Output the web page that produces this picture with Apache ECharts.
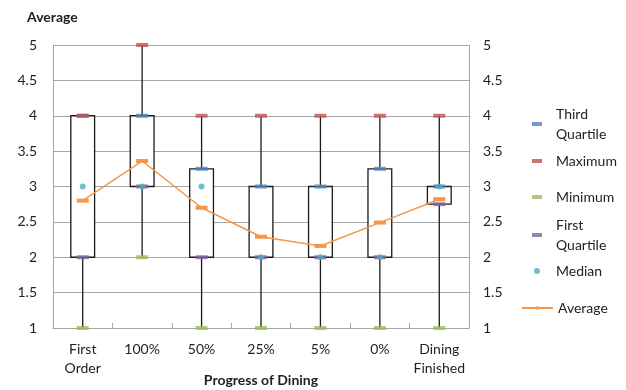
<!DOCTYPE html>
<html>
<head>
<meta charset="utf-8">
<script src="https://cdn.jsdelivr.net/npm/echarts@6/dist/echarts.min.js"></script>
<style>
  html, body { margin: 0; padding: 0; background: #fff; }
  #chart { width: 626px; height: 390px; }
</style>
</head>
<body>
<div id="chart"></div>
<script>
// Stages of the meal and the score summary at each stage
const categories = ['First Order', '100%', '50%', '25%', '5%', '0%', 'Dining Finished'];
const minimum     = [1, 2, 1, 1, 1, 1, 1];
const firstQuart  = [2, 3, 2, 2, 2, 2, 2.75];
const median      = [3, 3, 3, 2, 2, 2, 3];
const thirdQuart  = [4, 4, 3.25, 3, 3, 3.25, 3];
const maximum     = [4, 5, 4, 4, 4, 4, 4];
const average     = [2.8, 3.36, 2.7, 2.29, 2.16, 2.49, 2.82];
const yTicks      = [1, 1.5, 2, 2.5, 3, 3.5, 4, 4.5, 5];

const FONT = 'Lato';
const FS = 14;
const TXT = '#222';
const GRID = '#a6a6a6';

const boxData = categories.map((c, i) => [i, minimum[i], firstQuart[i], thirdQuart[i], maximum[i]]);

function dashSeries(name, values, color, z) {
  return {
    name: name,
    type: 'scatter',
    data: values,
    symbol: 'rect',
    symbolSize: [12, 4],
    itemStyle: { color: color },
    z: z
  };
}

// legend rows: icon centre y, and whether the label wraps onto two lines
const legendRows = [
  { name: 'Third Quartile', y: 124, two: true },
  { name: 'Maximum', y: 161 },
  { name: 'Minimum', y: 197 },
  { name: 'First Quartile', y: 235, two: true },
  { name: 'Median', y: 271 },
  { name: 'Average', y: 308 }
];
const LH = 20;
const TEXT_X = 556;

const legends = legendRows.map(r => {
  const isAvg = r.name === 'Average';
  const isMed = r.name === 'Median';
  const centerOff = r.two ? LH * 1.5 : LH / 2;
  const left = isAvg ? 521 : (isMed ? 534 : 532);
  const iw = isAvg ? 31 : (isMed ? 6 : 10);
  const ih = isMed ? 6 : 4;
  return {
    data: [r.name],
    orient: 'vertical',
    left: left,
    top: r.y - centerOff,
    padding: 0,
    itemWidth: iw,
    itemHeight: ih,
    selectedMode: false,
    formatter: n => n.replace(' ', '\n'),
    textStyle: {
      fontFamily: FONT,
      fontSize: FS,
      color: TXT,
      lineHeight: LH,
      padding: [r.two ? LH : 0, 0, 0, Math.max(0, TEXT_X - left - iw - 5)]
    }
  };
});

const chart = echarts.init(document.getElementById('chart'), null, { renderer: 'canvas' });

chart.setOption({
  animation: false,
  backgroundColor: '#fff',
  textStyle: { fontFamily: FONT },
  title: {
    text: 'Average',
    left: 27,
    top: 10,
    padding: 0,
    textStyle: { fontFamily: FONT, fontSize: FS, fontWeight: 'bold', color: TXT }
  },
  legend: legends,
  grid: { left: 53, right: 157, top: 45, bottom: 62, containLabel: false, outerBoundsMode: 'none' },
  xAxis: {
    type: 'category',
    data: categories,
    boundaryGap: true,
    name: 'Progress of Dining',
    nameLocation: 'middle',
    nameGap: 45,
    nameMoveOverlap: false,
    nameTextStyle: { fontFamily: FONT, fontSize: FS, fontWeight: 'bold', color: TXT },
    axisLine: { lineStyle: { color: GRID, width: 1 } },
    axisTick: { show: true, inside: true, length: 5, lineStyle: { color: GRID } },
    axisLabel: {
      interval: 0,
      fontFamily: FONT, fontSize: FS, color: TXT, lineHeight: 19, margin: 12,
      formatter: v => v.replace(' ', '\n')
    },
    splitLine: { show: false }
  },
  yAxis: [
    {
      type: 'value',
      min: yTicks[0], max: yTicks[yTicks.length - 1], interval: 0.5,
      axisLine: { show: true, lineStyle: { color: GRID } },
      axisTick: { show: false },
      axisLabel: { fontFamily: FONT, fontSize: FS, color: TXT, margin: 16 },
      splitLine: { lineStyle: { color: GRID, width: 1 } }
    },
    {
      type: 'value',
      position: 'right',
      min: yTicks[0], max: yTicks[yTicks.length - 1], interval: 0.5,
      axisLine: { show: true, lineStyle: { color: GRID } },
      axisTick: { show: false },
      axisLabel: { fontFamily: FONT, fontSize: FS, color: TXT, margin: 14 },
      splitLine: { show: false }
    }
  ],
  series: [
    {
      name: 'box',
      type: 'custom',
      data: boxData,
      z: 2,
      renderItem: function (params, api) {
        const i = api.value(0);
        const pMin = api.coord([i, api.value(1)]);
        const pQ1 = api.coord([i, api.value(2)]);
        const pQ3 = api.coord([i, api.value(3)]);
        const pMax = api.coord([i, api.value(4)]);
        const w = api.size([1, 0])[0] * 0.4;
        return {
          type: 'group',
          children: [
            {
              type: 'line',
              shape: { x1: pMin[0], y1: pMin[1], x2: pMax[0], y2: pMax[1] },
              style: { stroke: '#1a1a1a', lineWidth: 1.3 }
            },
            {
              type: 'rect',
              shape: { x: pQ3[0] - w / 2, y: pQ3[1], width: w, height: pQ1[1] - pQ3[1] },
              style: { fill: '#fff', stroke: '#1a1a1a', lineWidth: 1.3 }
            }
          ]
        };
      }
    },
    dashSeries('Third Quartile', thirdQuart, '#4f81bd', 5),
    dashSeries('Maximum', maximum, '#c0504d', 5),
    dashSeries('Minimum', minimum, '#9bbb59', 5),
    dashSeries('First Quartile', firstQuart, '#8064a2', 5),
    {
      name: 'Median',
      type: 'scatter',
      data: median,
      symbol: 'circle',
      symbolSize: 6,
      itemStyle: { color: '#4bacc6' },
      z: 6
    },
    {
      name: 'Average',
      type: 'line',
      data: average,
      symbol: 'rect',
      symbolSize: [12, 4],
      showAllSymbol: true,
      lineStyle: { color: '#f79646', width: 1.5 },
      itemStyle: { color: '#f79646' },
      z: 7
    }
  ]
});
</script>
</body>
</html>
